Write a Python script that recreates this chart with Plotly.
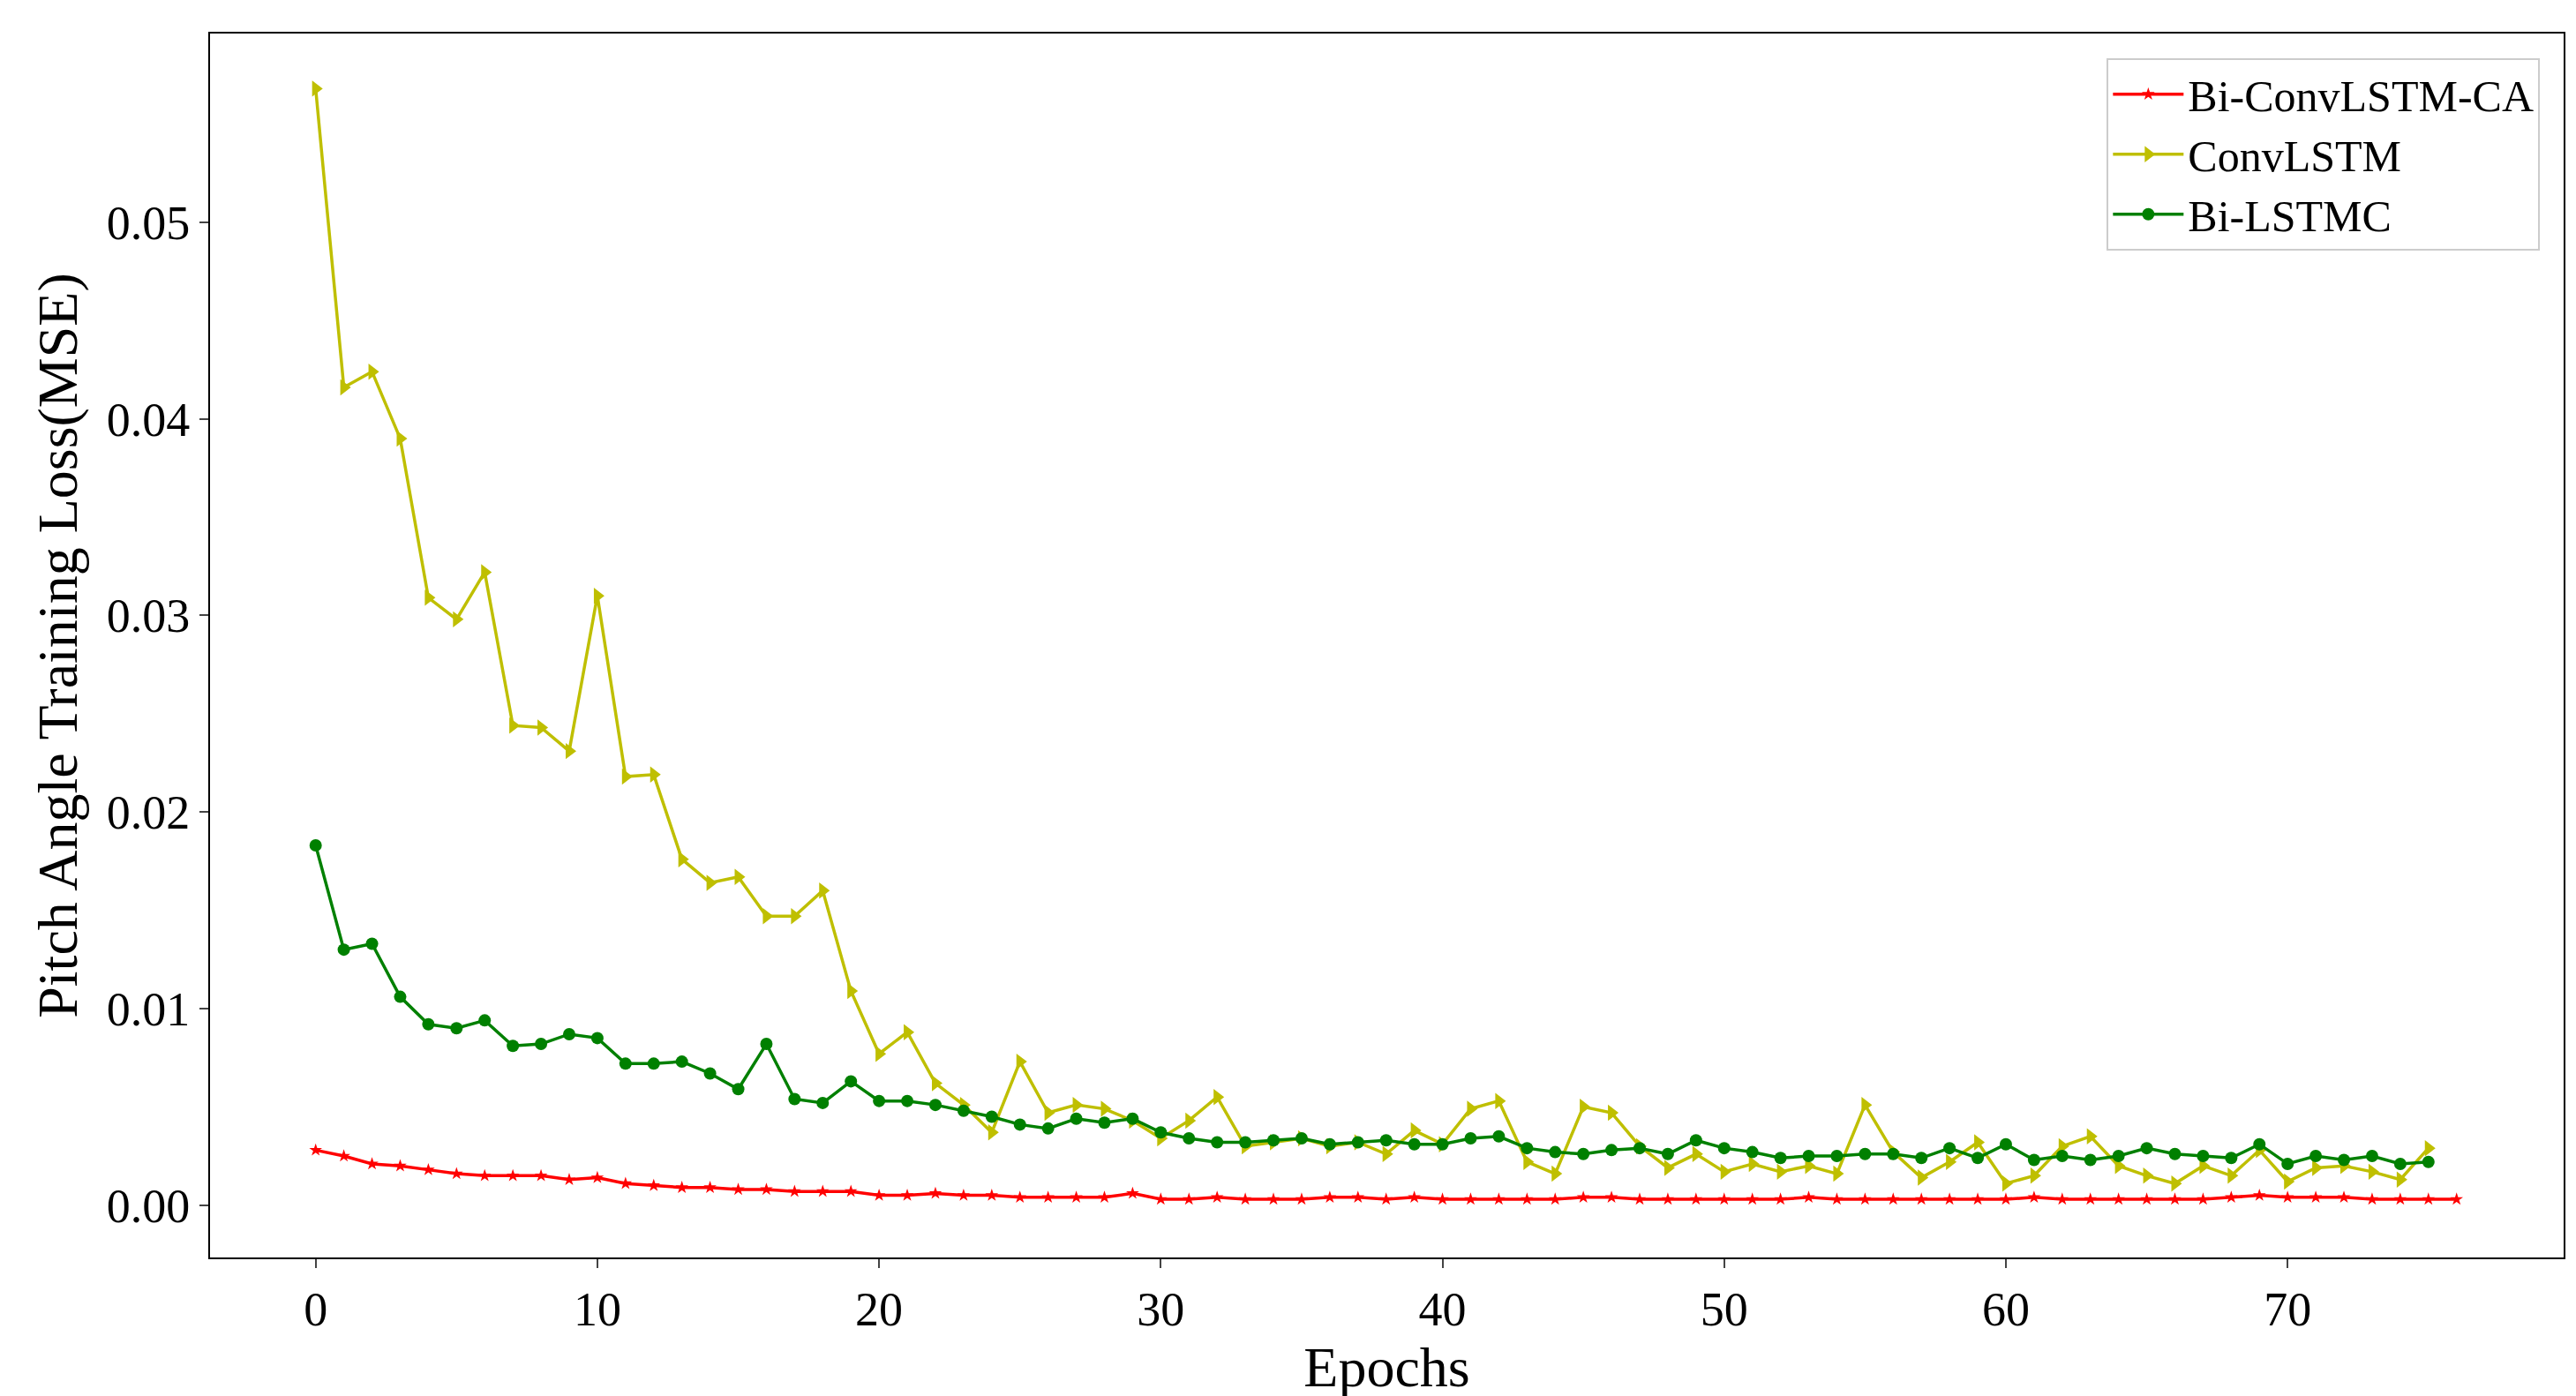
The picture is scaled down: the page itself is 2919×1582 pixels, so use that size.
import plotly.graph_objects as go

conv = [0.0568,0.0416,0.0424,0.0390,0.0309,0.0298,0.0322,0.0244,0.0243,0.0231,0.0310,0.0218,0.0219,0.0176,0.0164,0.0167,0.0147,0.0147,0.0160,0.0109,
        0.0077,0.0088,0.0062,0.0051,0.0037,0.0073,0.0047,0.0051,0.0049,0.0043,0.0034,0.0043,0.0055,0.0030,0.0032,0.0034,0.0030,0.0032,0.0026,0.0038,
        0.0031,0.0049,0.0053,0.0022,0.0016,0.0050,0.0047,0.0030,0.0019,0.0026,0.0017,0.0021,0.0017,0.0020,0.0016,0.0051,0.0027,0.0014,0.0022,0.0032,
        0.0011,0.0015,0.0030,0.0035,0.0020,0.0015,0.0011,0.0020,0.0015,0.0028,0.0012,0.0019,0.0020,0.0017,0.0013,0.0029]
bil = [0.0183,0.0130,0.0133,0.0106,0.0092,0.0090,0.0094,0.0081,0.0082,0.0087,0.0085,0.0072,0.0072,0.0073,0.0067,0.0059,0.0082,0.0054,0.0052,0.0063,
       0.0053,0.0053,0.0051,0.0048,0.0045,0.0041,0.0039,0.0044,0.0042,0.0044,0.0037,0.0034,0.0032,0.0032,0.0033,0.0034,0.0031,0.0032,0.0033,0.0031,
       0.0031,0.0034,0.0035,0.0029,0.0027,0.0026,0.0028,0.0029,0.0026,0.0033,0.0029,0.0027,0.0024,0.0025,0.0025,0.0026,0.0026,0.0024,0.0029,0.0024,
       0.0031,0.0023,0.0025,0.0023,0.0025,0.0029,0.0026,0.0025,0.0024,0.0031,0.0021,0.0025,0.0023,0.0025,0.0021,0.0022]
ca = [0.0028,0.0025,0.0021,0.0020,0.0018,0.0016,0.0015,0.0015,0.0015,0.0013,0.0014,0.0011,0.0010,0.0009,0.0009,0.0008,0.0008,0.0007,0.0007,0.0007,
      0.0005,0.0005,0.0006,0.0005,0.0005,0.0004,0.0004,0.0004,0.0004,0.0006,0.0003,0.0003,0.0004,0.0003,0.0003,0.0003,0.0004,0.0004,0.0003,0.0004,
      0.0003,0.0003,0.0003,0.0003,0.0003,0.0004,0.0004,0.0003,0.0003,0.0003,0.0003,0.0003,0.0003,0.0004,0.0003,0.0003,0.0003,0.0003,0.0003,0.0003,
      0.0003,0.0004,0.0003,0.0003,0.0003,0.0003,0.0003,0.0003,0.0004,0.0005,0.0004,0.0004,0.0004,0.0003,0.0003,0.0003,0.0003]

fig = go.Figure()
fig.add_trace(go.Scatter(x=list(range(len(ca))), y=ca, name="Bi-ConvLSTM-CA", mode="lines+markers",
                         line=dict(color="red", width=3.5), marker=dict(symbol="star", size=11, color="red")))
fig.add_trace(go.Scatter(x=list(range(len(conv))), y=conv, name="ConvLSTM", mode="lines+markers",
                         line=dict(color="#bfbf00", width=3.5), marker=dict(symbol="triangle-right", size=16, color="#bfbf00")))
fig.add_trace(go.Scatter(x=list(range(len(bil))), y=bil, name="Bi-LSTMC", mode="lines+markers",
                         line=dict(color="green", width=3.5), marker=dict(symbol="circle", size=14, color="green")))

font = "Liberation Serif, Times New Roman, serif"
ax = dict(showgrid=False, zeroline=False, showline=True, mirror=True, linecolor="black", linewidth=2,
          ticks="outside", ticklen=10, tickwidth=2, tickfont=dict(size=54, family=font, color="black"))
fig.update_xaxes(**ax, range=[-3.75, 79.8], tickvals=list(range(0, 80, 10)),
                 title=dict(text="Epochs", font=dict(size=64, family=font, color="black"), standoff=8))
fig.update_yaxes(**ax, range=[-0.00266, 0.0596], tickvals=[0, 0.01, 0.02, 0.03, 0.04, 0.05], tickformat=".2f",
                 title=dict(text="Pitch Angle Training Loss(MSE)", font=dict(size=64, family=font, color="black"), standoff=12))
fig.update_layout(width=2919, height=1582, plot_bgcolor="white", paper_bgcolor="white",
                  margin=dict(l=230, r=22, t=30, b=165),
                  legend=dict(x=0.99, y=0.98, xanchor="right", yanchor="top", bordercolor="#cccccc", borderwidth=2,
                              itemwidth=80, tracegroupgap=10,
                              font=dict(size=50, family=font, color="black"), bgcolor="rgba(255,255,255,0.9)"))
fig.write_html("out.html")
